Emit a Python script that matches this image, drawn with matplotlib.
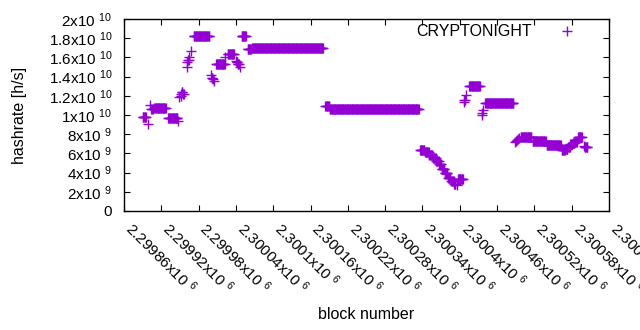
import numpy as np
import matplotlib
matplotlib.use('Agg')
import matplotlib.pyplot as plt

plt.rcParams['font.family'] = ['Liberation Sans', 'DejaVu Sans']
plt.rcParams['mathtext.fontset'] = 'custom'
plt.rcParams['mathtext.rm'] = 'Liberation Sans'
plt.rcParams['mathtext.default'] = 'regular'

# runs of blocks sharing the same hashrate (first block, last block, rate in 1e9 h/s)
run_start = [2299890, 2299898, 2299902, 2299904, 2299909, 2299931, 2299947, 2299949,
             2299951, 2299952, 2299953, 2299955, 2299961, 2299962, 2299963, 2299965,
             2299967, 2299972, 2300000, 2300001, 2300003, 2300004, 2300008, 2300023,
             2300027, 2300040, 2300041, 2300043, 2300046, 2300049, 2300059, 2300066,
             2300184, 2300191, 2300336, 2300344, 2300351, 2300357, 2300362, 2300367,
             2300371, 2300376, 2300381, 2300386, 2300391, 2300395, 2300397, 2300406,
             2300407, 2300410, 2300415, 2300435, 2300436, 2300437, 2300441, 2300489,
             2300490, 2300492, 2300494, 2300496, 2300498, 2300499, 2300517, 2300540,
             2300564, 2300570, 2300574, 2300578, 2300582, 2300585, 2300590, 2300600,
             2300601]
run_end = [2299895, 2299898, 2299902, 2299906, 2299927, 2299946, 2299947, 2299949,
           2299951, 2299952, 2299954, 2299956, 2299961, 2299962, 2299964, 2299965,
           2299967, 2299997, 2300000, 2300002, 2300003, 2300004, 2300022, 2300023,
           2300037, 2300040, 2300042, 2300045, 2300046, 2300056, 2300064, 2300180,
           2300190, 2300334, 2300343, 2300350, 2300356, 2300361, 2300366, 2300370,
           2300375, 2300380, 2300385, 2300390, 2300393, 2300395, 2300405, 2300406,
           2300408, 2300410, 2300432, 2300435, 2300436, 2300437, 2300486, 2300489,
           2300490, 2300492, 2300494, 2300496, 2300498, 2300515, 2300538, 2300562,
           2300569, 2300573, 2300577, 2300581, 2300584, 2300588, 2300596, 2300600,
           2300605]
run_rate = [9.76, 9.09, 11.0, 10.6, 10.7, 9.65, 9.35, 11.9,
            11.95, 12.2, 12.35, 12.2, 15.0, 15.5, 15.7, 16.0,
            16.7, 18.2, 14.2, 13.9, 13.8, 13.5, 15.3, 16.0,
            16.4, 15.6, 15.5, 15.3, 15.0, 18.2, 16.85, 16.95,
            10.94, 10.6, 6.35, 6.1, 5.8, 5.5, 5.25, 4.85,
            4.35, 3.95, 3.45, 3.1, 2.85, 2.7, 3.33, 11.35,
            11.6, 12.1, 13.0, 10.0, 10.2, 10.5, 11.3, 7.15,
            7.25, 7.4, 7.5, 7.6, 7.75, 7.67, 7.29, 6.88,
            6.35, 6.5, 6.7, 6.95, 7.05, 7.2, 7.74, 6.77,
            6.63]

xticks = [2299860, 2299920, 2299980, 2300040, 2300100, 2300160, 2300220,
          2300280, 2300340, 2300400, 2300460, 2300520, 2300580, 2300640]
xtick_labels = ['2.29986x10 $^6$', '2.29992x10 $^6$', '2.29998x10 $^6$', '2.30004x10 $^6$',
                '2.3001x10 $^6$', '2.30016x10 $^6$', '2.30022x10 $^6$', '2.30028x10 $^6$',
                '2.30034x10 $^6$', '2.3004x10 $^6$', '2.30046x10 $^6$', '2.30052x10 $^6$',
                '2.30058x10 $^6$', '2.30064x10 $^6$']
yticks = [0, 2e9, 4e9, 6e9, 8e9, 1e10, 1.2e10, 1.4e10, 1.6e10, 1.8e10, 2e10]
ytick_labels = ['0', '2x10 $^{9}$', '4x10 $^{9}$', '6x10 $^{9}$', '8x10 $^{9}$',
                '1x10 $^{10}$', '1.2x10 $^{10}$', '1.4x10 $^{10}$', '1.6x10 $^{10}$',
                '1.8x10 $^{10}$', '2x10 $^{10}$']

# expand the runs into one point per block
blocks = []
rates = []
for s, e, r in zip(run_start, run_end, run_rate):
    for b in range(s, e + 1):
        blocks.append(b)
        rates.append(r * 1e9)

fig = plt.figure(figsize=(6.4, 3.3), dpi=100)
ax = fig.add_axes([124 / 640, 1 - 211 / 330, 485 / 640, 192 / 330])

ax.plot(blocks, rates, '+', color='#9400D3', ms=6.5, mew=1.0, label='CRYPTONIGHT')

ax.set_xlim(xticks[0], xticks[-1])
ax.set_ylim(0, 2e10)
ax.set_xticks(xticks)
ax.set_xticklabels(xtick_labels, rotation=-45, ha='left', va='baseline',
                   rotation_mode='anchor', fontsize=11)
ax.set_yticks(yticks)
ax.set_yticklabels(ytick_labels, fontsize=11)
ax.tick_params(direction='in', length=4, width=0.8, top=True, right=True)
ax.tick_params(axis='x', pad=13.5)
ax.tick_params(axis='y', pad=8.5)
for sp in ax.spines.values():
    sp.set_linewidth(1.0)

ax.set_xlabel('block number', fontsize=11.5, va='top')
ax.xaxis.set_label_coords(0.5, -0.5)
ax.set_ylabel('hashrate [h/s]', fontsize=11.5)
ax.yaxis.set_label_coords(-0.2, 0.5)

ax.legend(loc='upper right', bbox_to_anchor=(0.96, 1.005), markerfirst=False,
          frameon=False, fontsize=11.5, handlelength=2.0, handletextpad=1.2,
          borderaxespad=0.0)

fig.savefig('out.png', dpi=100)
